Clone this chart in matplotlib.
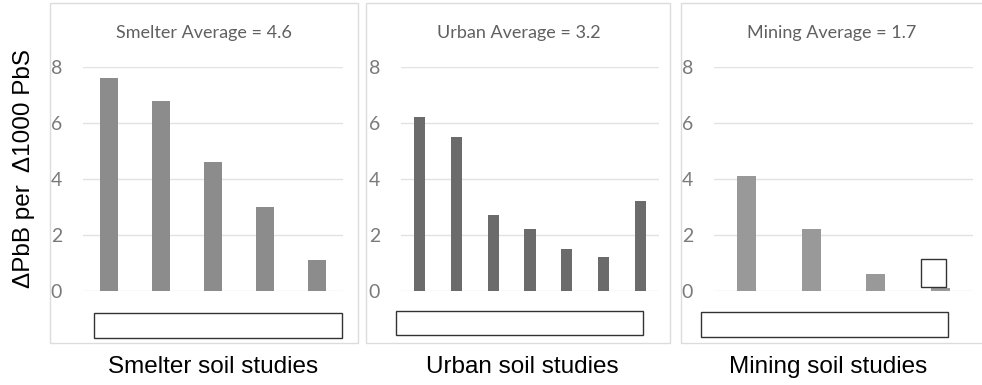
import numpy as np
import matplotlib
matplotlib.use("Agg")
import matplotlib.pyplot as plt
from matplotlib.patches import Rectangle
from matplotlib import font_manager as fm

# data
smelter_vals = [7.6, 6.8, 4.6, 3.0, 1.1]
urban_vals = [6.2, 5.5, 2.7, 2.2, 1.5, 1.2, 3.2]
mining_vals = [4.1, 2.2, 0.6, 0.1]
titles = ["Smelter Average = 4.6", "Urban Average = 3.2", "Mining Average = 1.7"]
group_labels = ["Smelter soil studies", "Urban soil studies", "Mining soil studies"]
yticks = [0, 2, 4, 6, 8]

# narrow font standing in for Calibri
names = set(f.name for f in fm.fontManager.ttflist)
narrow = "Lato" if "Lato" in names else "DejaVu Sans"

W, H = 982, 385
fig = plt.figure(figsize=(W / 100, H / 100), dpi=100)

def fx(px):
    return px / W

def fy(py):
    return 1 - py / H

# panel frames (left, right) in pixels, plot areas (left, right)
frames = [(50, 358), (366, 670), (681, 990)]
areas = [(83, 343), (401, 659), (714, 973)]
colors = ["#8c8c8c", "#6b6b6b", "#999999"]
widths = [0.33, 0.30, 0.29]
series = [smelter_vals, urban_vals, mining_vals]
title_x = [204, 519, 832]
label_x = [213, 522, 828]

for i in range(3):
    fl, fr = frames[i]
    fig.patches.append(Rectangle((fx(fl), fy(343)), fx(fr - fl), (343 - 3) / H,
                                 transform=fig.transFigure, fill=False,
                                 edgecolor="#dcdcdc", lw=1.0))
    al, ar = areas[i]
    ax = fig.add_axes([fx(al), fy(291), fx(ar - al), (291 - 67) / H])
    vals = series[i]
    x = np.arange(len(vals))
    ax.bar(x, vals, width=widths[i], color=colors[i], zorder=3)
    ax.set_xlim(-0.5, len(vals) - 0.5)
    ax.set_ylim(0, 8)
    ax.set_yticks(yticks)
    ax.set_yticklabels([str(t) for t in yticks], fontsize=14, color="#7a7a7a",
                       fontfamily=narrow)
    ax.tick_params(axis="y", length=0, pad=15)
    ax.set_xticks([])
    ax.grid(axis="y", color="#e2e2e2", lw=1.0, zorder=0)
    for s in ax.spines.values():
        s.set_visible(False)
    ax.patch.set_alpha(0)
    fig.text(fx(title_x[i]), fy(33), titles[i], ha="center", va="center",
             fontsize=13, color="#606060", fontfamily=narrow)
    fig.text(fx(label_x[i]), fy(367), group_labels[i], ha="center", va="center",
             fontsize=17.5, color="black", fontfamily="Liberation Sans")

# white boxes covering the category labels
boxes = [(94, 313, 342, 338), (396, 311, 643, 335), (701, 312, 948, 337), (921, 259, 946, 287)]
for (x0, y0, x1, y1) in boxes:
    fig.patches.append(Rectangle((fx(x0), fy(y1)), fx(x1 - x0), (y1 - y0) / H,
                                 transform=fig.transFigure, facecolor="white",
                                 edgecolor="#333333", lw=1.0, zorder=10))

fig.text(fx(24), fy(169), "\u0394PbB per  \u03941000 PbS", rotation=90,
         ha="center", va="center", fontsize=17.5, fontfamily="Liberation Sans")

fig.savefig("out.png", dpi=100, facecolor="white")
